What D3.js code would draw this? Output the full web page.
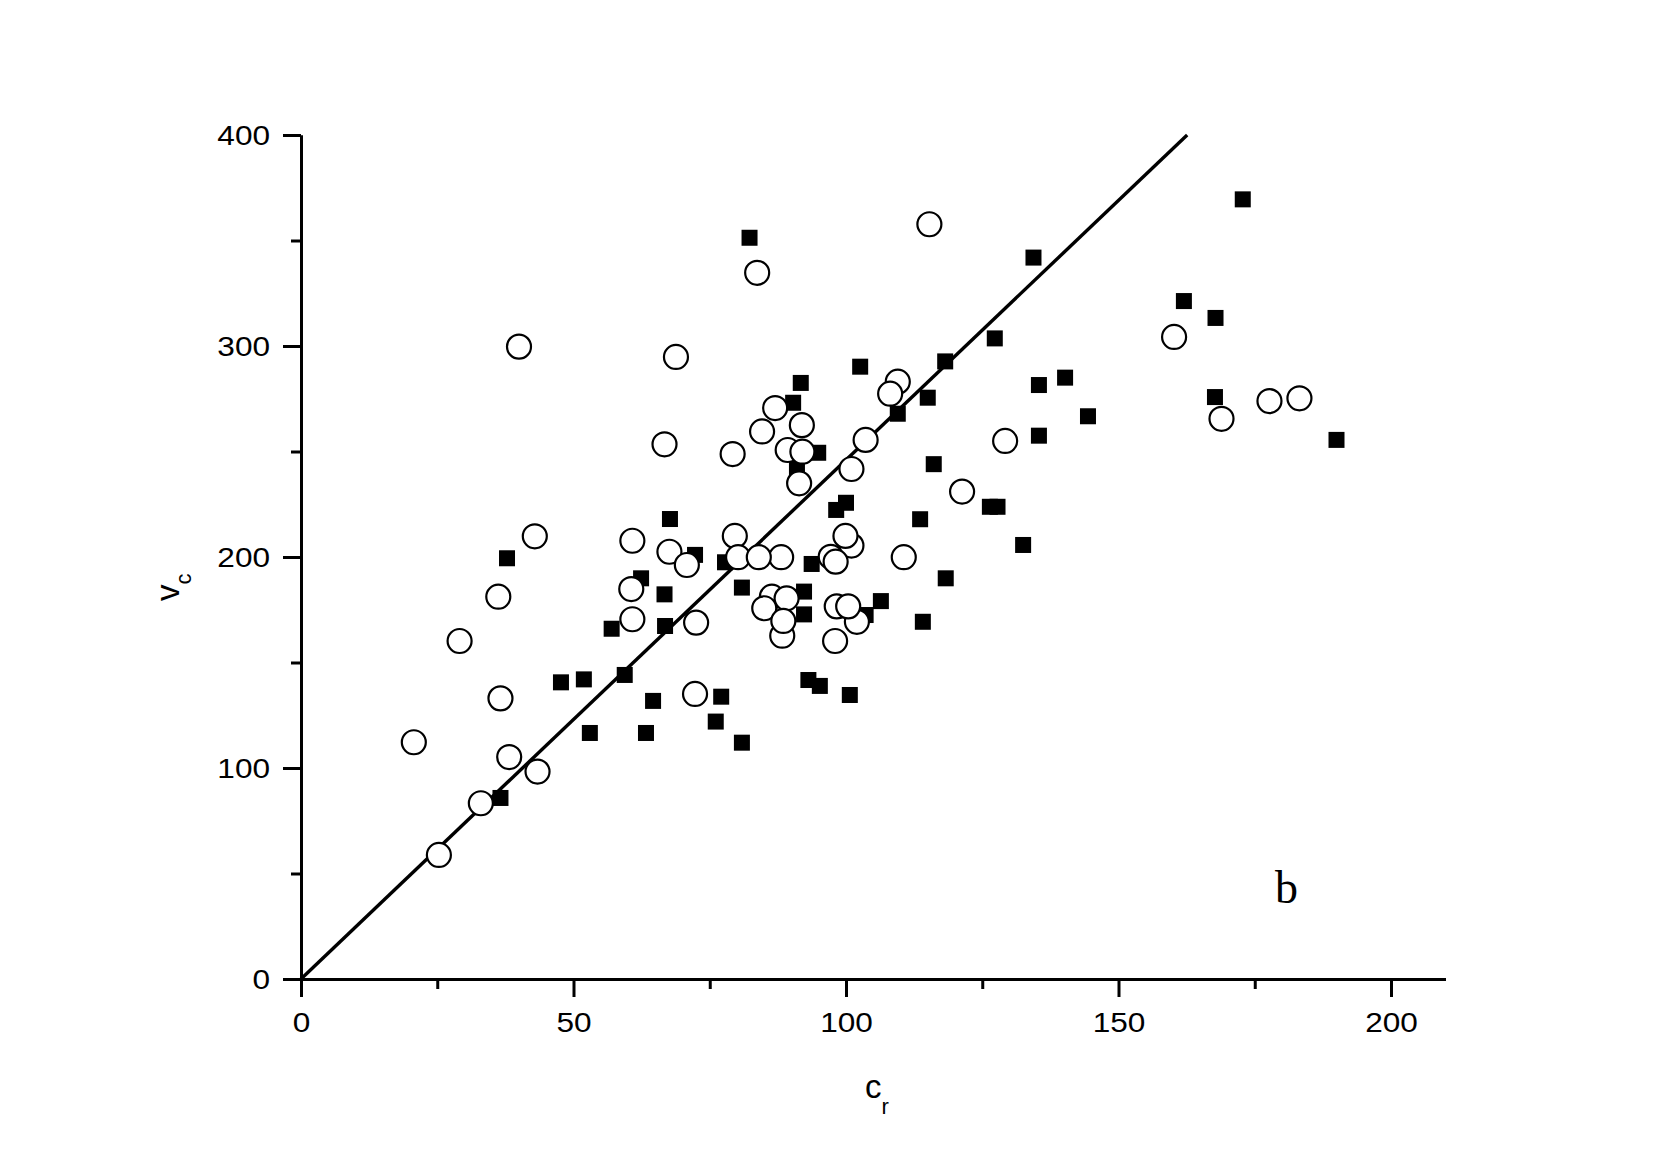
<!DOCTYPE html>
<html>
<head>
<meta charset="utf-8">
<script src="https://cdn.jsdelivr.net/npm/d3@7"></script>
<style>
  html, body { margin: 0; padding: 0; background: #fff; }
  svg { display: block; }
</style>
</head>
<body>
<svg id="chart" width="1680" height="1173"></svg>
<script>
// ---- data ----
const circleX = [40, 68.8, 83.7, 115.3, 109.5, 108.1, 87, 84.6, 91.9, 103.6, 129.2, 66.7, 79.2, 89.3, 92, 91.4, 101, 121.3,
  160.2, 168.9, 177.7, 183.2, 42.9, 60.8, 67.6, 70.8, 60.6, 36.2, 60.8, 72.5, 29.1, 36.6, 72.3, 20.7, 38.2, 43.4, 33, 25.3,
  79.6, 88.1, 80.2, 84, 101, 99.9, 97.2, 98.1, 110.6, 86.4, 85, 89.1, 88.3, 88.5, 98.3, 102, 100.4, 98];
const circleY = [299.7, 294.8, 334.7, 357.7, 283.1, 277.4, 270.6, 259.5, 262.5, 255.5, 255, 253.4, 248.8, 250.7, 249.9, 234.9, 241.7, 231,
  304.3, 265.5, 273.9, 275.2, 209.8, 207.7, 202.5, 196.2, 184.8, 181.2, 170.5, 168.9, 160.2, 133, 135.1, 112.2, 105.2, 98.3, 83.3, 58.8,
  210, 199.9, 199.9, 199.9, 205.4, 210, 200.1, 197.8, 199.9, 181.2, 175.7, 180.4, 162.7, 169.7, 176.6, 169.3, 176.6, 160.2];

const squareX = [82.3, 134.4, 127.3, 118.2, 102.6, 91.7, 90.3, 115, 109.5, 135.4, 140.2, 144.4, 135.4, 172.8, 162, 167.8, 167.7, 190,
  67.7, 37.8, 72.3, 62.4, 66.7, 57, 66.8, 47.7, 51.9, 59.4, 64.6, 53, 63.3, 36.6, 94.9, 91, 116.1, 100, 98.2, 113.6, 126.4, 127.8,
  132.5, 77.8, 93.7, 80.9, 92.3, 92.3, 103.6, 106.4, 118.3, 114.1, 93.1, 95.2, 100.7, 77.1, 76.1, 80.9];
const squareY = [351.3, 341.9, 303.6, 292.7, 290.2, 282.5, 273.1, 275.5, 267.9, 281.5, 285, 266.7, 257.5, 369.5, 321.3, 313.3, 275.8, 255.5,
  218, 199.4, 201, 189.9, 182.3, 166, 167.3, 140.6, 142, 144.1, 131.8, 116.6, 116.6, 85.8, 249.4, 242, 244, 225.7, 222.3, 217.9, 223.8, 223.8,
  205.7, 197.5, 196.7, 185.5, 183.6, 172.8, 172.5, 179.1, 189.9, 169.3, 141.7, 138.9, 134.6, 133.8, 122, 112];

const fitX = [0, 162.6];
const fitY = [0, 400];

const xMajorTicks = [0, 50, 100, 150, 200];
const xMinorTicks = [25, 75, 125, 175];
const yMajorTicks = [0, 100, 200, 300, 400];
const yMinorTicks = [50, 150, 250, 350];

const xTitle = "c", xSub = "r";
const yTitle = "v", ySub = "c";
const panelLabel = "b";

// ---- drawing ----
const svg = d3.select("#chart");
const font = "Arial, 'Liberation Sans', sans-serif";
const stretch = 1.17;

const x = d3.scaleLinear().domain([0, 210]).range([301, 301 + 210 * 5.45]);
const y = d3.scaleLinear().domain([0, 400]).range([979, 135]);

svg.append("rect").attr("width", 1680).attr("height", 1173).attr("fill", "#fff");

// fit line
svg.append("path")
  .datum(fitX.map((v, i) => [v, fitY[i]]))
  .attr("d", d3.line().x(d => x(d[0])).y(d => y(d[1])))
  .attr("fill", "none").attr("stroke", "#000").attr("stroke-width", 3.4);

// squares
const sq = 16;
svg.append("g").selectAll("rect")
  .data(squareX.map((v, i) => [v, squareY[i]]))
  .join("rect")
  .attr("x", d => x(d[0]) - sq / 2)
  .attr("y", d => y(d[1]) - sq / 2)
  .attr("width", sq).attr("height", sq)
  .attr("fill", "#000");

// circles
svg.append("g").selectAll("circle")
  .data(circleX.map((v, i) => [v, circleY[i]]))
  .join("circle")
  .attr("cx", d => x(d[0]))
  .attr("cy", d => y(d[1]))
  .attr("r", 12)
  .attr("fill", "#fff")
  .attr("stroke", "#000")
  .attr("stroke-width", 2.2);

// axes
function styleAxis(g) {
  g.select(".domain").attr("stroke-width", 3).attr("stroke", "#000");
  g.selectAll(".tick line").attr("stroke-width", 3).attr("stroke", "#000");
}

const gxMinor = svg.append("g").attr("transform", `translate(0,${y(0)})`)
  .call(d3.axisBottom(x).tickValues(xMinorTicks).tickSize(10).tickSizeOuter(0).tickFormat(""));
styleAxis(gxMinor);
const gx = svg.append("g").attr("transform", `translate(0,${y(0)})`)
  .call(d3.axisBottom(x).tickValues(xMajorTicks).tickSize(18).tickPadding(16).tickSizeOuter(0).tickFormat(d3.format("d")));
styleAxis(gx);
gx.selectAll("text").attr("font-family", font).attr("font-size", 27).attr("fill", "#000")
  .attr("transform", `scale(${stretch},1)`);

const gyMinor = svg.append("g").attr("transform", `translate(${x(0)},0)`)
  .call(d3.axisLeft(y).tickValues(yMinorTicks).tickSize(10).tickSizeOuter(0).tickFormat(""));
styleAxis(gyMinor);
const gy = svg.append("g").attr("transform", `translate(${x(0)},0)`)
  .call(d3.axisLeft(y).tickValues(yMajorTicks).tickSize(18).tickSizeOuter(0).tickFormat(d3.format("d")));
styleAxis(gy);
gy.selectAll("text").attr("font-family", font).attr("font-size", 27).attr("fill", "#000")
  .attr("x", -31 / stretch).attr("dy", "0.36em")
  .attr("transform", `scale(${stretch},1)`);

// axis titles
const xt = svg.append("text").attr("x", 865).attr("y", 1098)
  .attr("font-family", font).attr("font-size", 33).attr("fill", "#000");
xt.append("tspan").text(xTitle);
xt.append("tspan").attr("font-size", 22).attr("dy", 16).text(xSub);

const yt = svg.append("text").attr("transform", "translate(179,601) rotate(-90)")
  .attr("font-family", font).attr("font-size", 33).attr("fill", "#000");
yt.append("tspan").text(yTitle);
yt.append("tspan").attr("font-size", 22).attr("dy", 12).text(ySub);

// panel label
svg.append("text").attr("x", 1275).attr("y", 903)
  .attr("font-family", "'Times New Roman', 'Liberation Serif', serif")
  .attr("font-size", 46).attr("fill", "#000").text(panelLabel);
</script>
</body>
</html>
